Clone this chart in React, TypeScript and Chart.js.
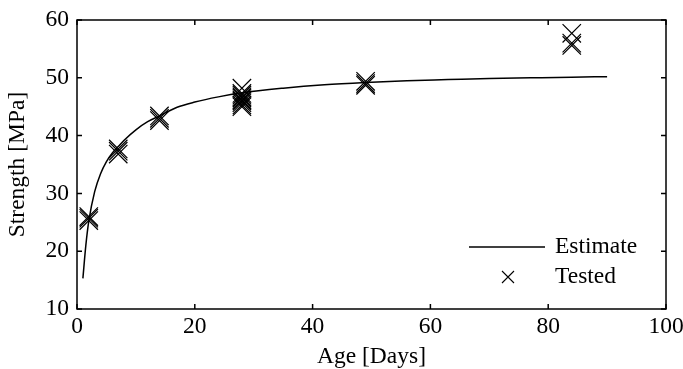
import React, { useEffect, useRef } from "react";
import { Chart, registerables } from "chart.js";

Chart.register(...registerables);

const estimateDays = [1, 1.5, 2, 3, 4, 5, 6, 7, 8, 10, 12, 14, 17, 20, 24, 28, 35, 42, 49, 56, 63, 70, 77, 84, 90];
const estimateStrength = [15.3, 21, 25.2, 30.3, 33.4, 35.5, 37.0, 38.1, 39.2, 41.0, 42.4, 43.4, 44.9, 45.8, 46.7, 47.4, 48.2, 48.8, 49.2, 49.5, 49.7, 49.9, 50.0, 50.1, 50.2];

const testedDays = [2, 2, 2, 7, 7, 7, 14, 14, 14, 28, 28, 28, 28, 28, 28, 28, 28, 28, 28, 49, 49, 49, 84, 84, 84];
const testedStrength = [25.3, 25.7, 26.0, 36.8, 37.3, 37.7, 42.6, 43.0, 43.4, 48.2, 47.3, 47.0, 46.7, 46.5, 46.2, 46.0, 45.7, 45.3, 45.0, 48.7, 49.0, 49.4, 57.7, 56.0, 55.6];

const xTicks = [0, 20, 40, 60, 80, 100];
const yTicks = [10, 20, 30, 40, 50, 60];

const legendLabels = ["Estimate", "Tested"];

const FONT = "Liberation Serif, Times New Roman, serif";
const FSIZE = 23.5;

const boxPlugin = {
  id: "boxAndTicks",
  afterDraw(chart: any) {
    const { ctx, chartArea, scales } = chart;
    const { left, right, top, bottom } = chartArea;
    const x = scales.x;
    const y = scales.y;
    ctx.save();
    ctx.strokeStyle = "#000";
    ctx.lineWidth = 1.5;
    ctx.strokeRect(left, top, right - left, bottom - top);
    const tl = 5;
    ctx.beginPath();
    xTicks.forEach((v) => {
      const px = x.getPixelForValue(v);
      ctx.moveTo(px, bottom);
      ctx.lineTo(px, bottom - tl);
      ctx.moveTo(px, top);
      ctx.lineTo(px, top + tl);
    });
    yTicks.forEach((v) => {
      const py = y.getPixelForValue(v);
      ctx.moveTo(left, py);
      ctx.lineTo(left + tl, py);
      ctx.moveTo(right, py);
      ctx.lineTo(right - tl, py);
    });
    ctx.stroke();

    // legend
    const ly1 = bottom - 62;
    const ly2 = bottom - 32;
    ctx.lineWidth = 1.4;
    ctx.beginPath();
    ctx.moveTo(right - 197, ly1);
    ctx.lineTo(right - 121, ly1);
    ctx.stroke();
    const cx = right - 158;
    const h = 6;
    ctx.lineWidth = 1.1;
    ctx.beginPath();
    ctx.moveTo(cx - h, ly2 - h);
    ctx.lineTo(cx + h, ly2 + h);
    ctx.moveTo(cx + h, ly2 - h);
    ctx.lineTo(cx - h, ly2 + h);
    ctx.stroke();
    ctx.fillStyle = "#000";
    ctx.font = `${FSIZE}px ${FONT}`;
    ctx.textAlign = "left";
    ctx.textBaseline = "middle";
    ctx.fillText(legendLabels[0], right - 111, ly1);
    ctx.fillText(legendLabels[1], right - 111, ly2);
    ctx.restore();
  },
};

export default function App() {
  const ref = useRef<HTMLCanvasElement | null>(null);
  useEffect(() => {
    document.body.style.margin = "0";
    const canvas = ref.current;
    if (!canvas) return;
    const chart = new Chart(canvas, {
      type: "scatter",
      data: {
        datasets: [
          {
            label: legendLabels[0],
            data: estimateDays.map((d, i) => ({ x: d, y: estimateStrength[i] })),
            showLine: true,
            borderColor: "#000",
            borderWidth: 1.5,
            pointRadius: 0,
            cubicInterpolationMode: "monotone",
          },
          {
            label: legendLabels[1],
            data: testedDays.map((d, i) => ({ x: d, y: testedStrength[i] })),
            showLine: false,
            pointStyle: "crossRot",
            pointRadius: 13,
            borderColor: "#000",
            backgroundColor: "#000",
            borderWidth: 1.2,
          },
        ],
      },
      options: {
        responsive: false,
        animation: false,
        layout: { padding: { top: 20, right: 17, left: 0, bottom: 0 } },
        plugins: {
          legend: { display: false },
          tooltip: { enabled: false },
        },
        scales: {
          x: {
            type: "linear",
            min: 0,
            max: 100,
            afterFit: (s: any) => {
              s.height = 60;
              s.paddingRight = 0;
              s.paddingLeft = 0;
            },
            afterBuildTicks: (s: any) => {
              s.ticks = xTicks.map((v) => ({ value: v }));
            },
            grid: { display: false, drawTicks: false },
            border: { display: false },
            ticks: {
              color: "#000",
              padding: 4,
              maxRotation: 0,
              font: { family: FONT, size: FSIZE },
            },
            title: {
              display: true,
              text: "Age [Days]",
              color: "#000",
              font: { family: FONT, size: FSIZE, lineHeight: 1 },
              padding: { top: 0, bottom: 0 },
            },
          },
          y: {
            type: "linear",
            min: 10,
            max: 60,
            afterFit: (s: any) => {
              s.width = 77;
              s.paddingTop = 0;
              s.paddingBottom = 0;
            },
            afterBuildTicks: (s: any) => {
              s.ticks = yTicks.map((v) => ({ value: v }));
            },
            grid: { display: false, drawTicks: false },
            border: { display: false },
            ticks: {
              color: "#000",
              padding: 8,
              font: { family: FONT, size: FSIZE },
            },
            title: {
              display: true,
              text: "Strength [MPa]",
              color: "#000",
              font: { family: FONT, size: FSIZE, lineHeight: 1 },
              padding: { top: 6, bottom: 0 },
            },
          },
        },
      },
      plugins: [boxPlugin],
    } as any);
    return () => chart.destroy();
  }, []);
  return <canvas ref={ref} width={683} height={369} style={{ display: "block" }} />;
}
